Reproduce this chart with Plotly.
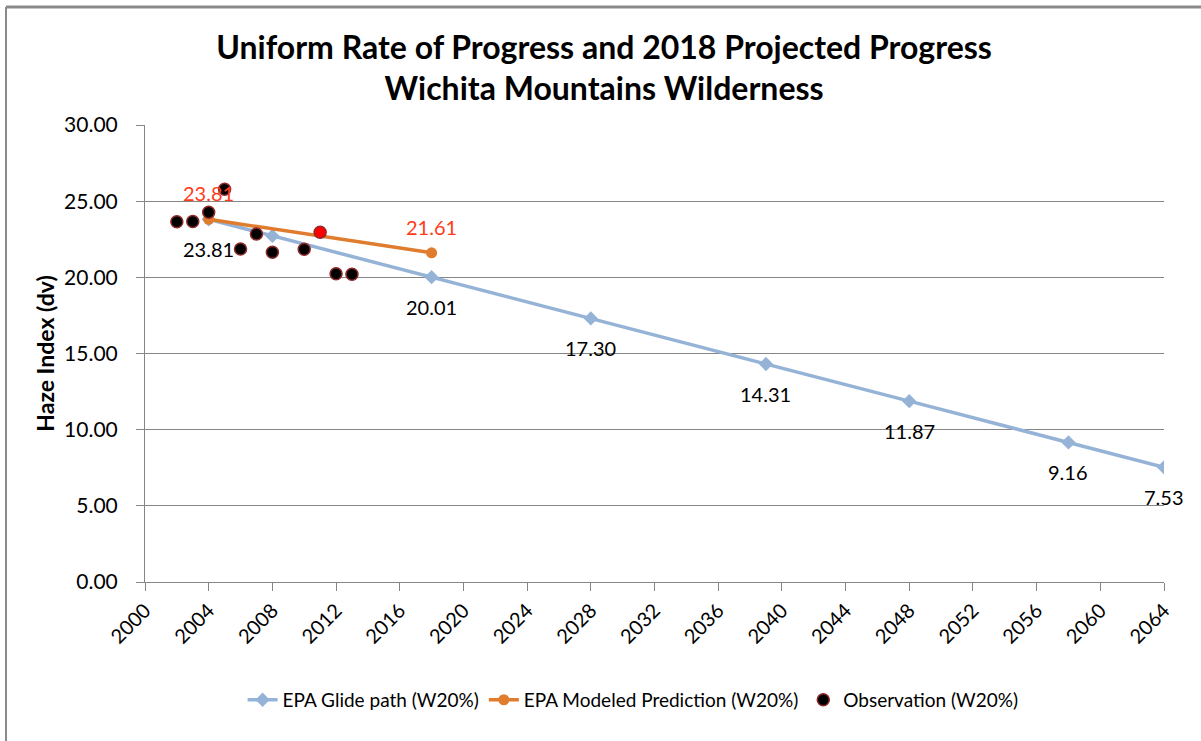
import plotly.graph_objects as go

# Glide path (uniform rate of progress), 20% worst days
glide_years = [2004, 2008, 2018, 2028, 2039, 2048, 2058, 2064]
glide_values = [23.81, 22.72, 20.01, 17.30, 14.31, 11.87, 9.16, 7.53]
glide_labeled = [True, False, True, True, True, True, True, True]

# Modeled 2018 prediction
model_years = [2004, 2018]
model_values = [23.81, 21.61]

# Observed haze index, 20% worst days
obs_years = [2002, 2003, 2004, 2005, 2006, 2007, 2008, 2010, 2011, 2012, 2013]
obs_values = [23.65, 23.66, 24.27, 25.78, 21.86, 22.85, 21.65, 21.84, 22.96, 20.24, 20.20]
obs_fill = ["#000000"] * 8 + ["#FF0000"] + ["#000000"] * 2

x_ticks = list(range(2000, 2065, 4))
y_ticks = [0, 5, 10, 15, 20, 25, 30]

FONT = "Lato"
GRID = "#868686"
BLUE = "#95B3D7"
ORANGE = "#E07C2E"
RED_TEXT = "#FF3B1A"

fig = go.Figure()

fig.add_trace(go.Scatter(
    x=glide_years, y=glide_values, mode="lines+markers",
    name="EPA Glide path (W20%)",
    line=dict(color=BLUE, width=3.5),
    marker=dict(symbol="diamond", size=11, color=BLUE),
))
fig.add_trace(go.Scatter(
    x=model_years, y=model_values, mode="lines+markers",
    name="EPA Modeled Prediction (W20%)",
    line=dict(color=ORANGE, width=3.5),
    marker=dict(symbol="circle", size=11, color=ORANGE),
))
fig.add_trace(go.Scatter(
    x=obs_years, y=obs_values, mode="markers",
    name="Observation (W20%)",
    marker=dict(symbol="circle", size=12, color=obs_fill,
                line=dict(color="#8E2A2A", width=1.5)),
))

annotations = []
for xv, yv, show in zip(glide_years, glide_values, glide_labeled):
    if show:
        annotations.append(dict(
            x=xv, y=yv, xref="x", yref="y", text=f"{yv:.2f}",
            showarrow=False, yshift=-30,
            font=dict(family=FONT, size=20, color="#000000"),
        ))
for xv, yv in zip(model_years, model_values):
    annotations.append(dict(
        x=xv, y=yv, xref="x", yref="y", text=f"{yv:.2f}",
        showarrow=False, yshift=26,
        font=dict(family=FONT, size=20, color=RED_TEXT),
    ))

# Chart frame: left and top border of the chart area
shapes = [
    dict(type="line", xref="paper", yref="paper",
         x0=-0.1364, x1=1.05, y0=1.2582, y1=1.2582,
         line=dict(color="#8A8A8A", width=3)),
    dict(type="line", xref="paper", yref="paper",
         x0=-0.1364, x1=-0.1364, y0=1.2582, y1=-0.35,
         line=dict(color="#8A8A8A", width=2)),
]

fig.update_layout(
    width=1201, height=741,
    margin=dict(l=145, r=37, t=125, b=159),
    paper_bgcolor="white", plot_bgcolor="white",
    font=dict(family=FONT, color="#000000"),
    title=dict(
        text="Uniform Rate of Progress and 2018 Projected Progress<br>Wichita Mountains Wilderness",
        x=0.503, xanchor="center", y=0.921, yanchor="middle",
        font=dict(family=FONT, size=32, color="#000000", weight="bold"),
    ),
    showlegend=True,
    legend=dict(
        orientation="h", x=0.479, xanchor="center", y=-0.258, yanchor="middle",
        font=dict(family=FONT, size=19, color="#000000"),
        itemwidth=30, bgcolor="rgba(0,0,0,0)",
    ),
    annotations=annotations,
    shapes=shapes,
)

fig.update_xaxes(
    range=[2000, 2064], tickvals=x_ticks, ticktext=[str(v) for v in x_ticks],
    tickangle=-45, tickfont=dict(family=FONT, size=20),
    showgrid=False, zeroline=False,
    showline=True, linecolor=GRID, linewidth=1,
    ticks="outside", ticklen=8, tickcolor=GRID,
)
fig.update_yaxes(
    range=[0, 30], tickvals=y_ticks, ticktext=[f"{v:.2f}" for v in y_ticks],
    tickfont=dict(family=FONT, size=21),
    showgrid=True, gridcolor=GRID, gridwidth=1, zeroline=False,
    showline=True, linecolor=GRID, linewidth=1,
    ticks="outside", ticklen=8, tickcolor=GRID, ticklabelstandoff=14,
    title=dict(text="Haze Index (dv)", standoff=3,
               font=dict(family=FONT, size=23, color="#000000", weight="bold")),
)

fig.write_html("out.html")
